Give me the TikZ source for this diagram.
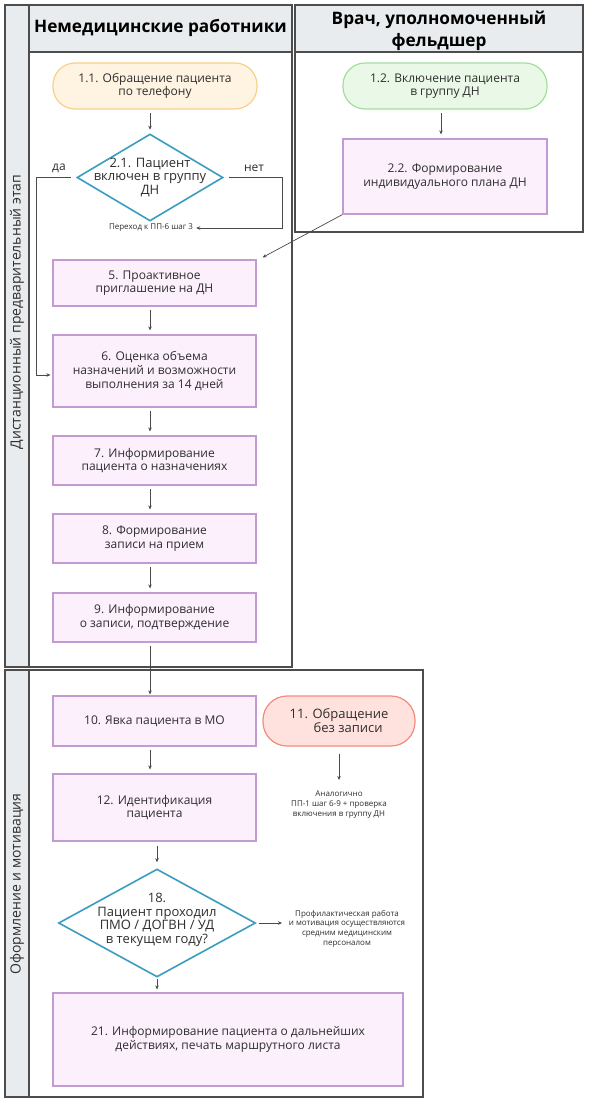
\documentclass[tikz,border=0pt]{standalone}
\usepackage{fontspec}
\setmainfont{Open Sans}
\usetikzlibrary{shapes.geometric,arrows.meta,calc}
\definecolor{frameC}{HTML}{4D4D4D}
\definecolor{headF}{HTML}{E8ECEF}
\definecolor{boxB}{HTML}{C39BD3}
\definecolor{boxF}{HTML}{FCF0FD}
\definecolor{orB}{HTML}{F7D08A}
\definecolor{orF}{HTML}{FFF4E2}
\definecolor{grB}{HTML}{A4DE9C}
\definecolor{grF}{HTML}{EAF9E7}
\definecolor{rdB}{HTML}{F28B7D}
\definecolor{rdF}{HTML}{FFE2DD}
\definecolor{diaB}{HTML}{3A9DBF}
\definecolor{txt}{HTML}{2E2E2E}
\definecolor{lineC}{HTML}{4A4A4A}
\newcommand{\boxfont}{\fontsize{12}{13.6}\selectfont}
\newcommand{\diafont}{\fontsize{13}{13.6}\selectfont}
\newcommand{\tinyfont}{\fontsize{8}{9.7}\selectfont}
\newcommand{\headfont}{\fontsize{17.2}{22}\selectfont\bfseries}
\newcommand{\lanefont}{\fontsize{14}{15}\selectfont}
\tikzset{
  x=1pt, y=-1pt,
  box/.style={draw=boxB, fill=boxF, line width=1.2pt, inner sep=0pt, align=center, font=\boxfont, text=txt},
  pill/.style={box, rounded corners=22pt},
  dia/.style={diamond, draw=diaB, fill=white, line width=1.6pt, inner sep=0pt},
  diatext/.style={align=center, font=\diafont, text=txt, inner sep=0pt},
  arr/.style={-{Stealth[length=4pt,width=3.5pt]}, draw=lineC, line width=0.7pt},
  small/.style={font=\tinyfont, text=txt, align=center, inner sep=1pt},
  lane/.style={draw=frameC, line width=1.1pt},
  head/.style={font=\headfont, text=black, align=center},
  lanetxt/.style={font=\lanefont, text=txt, rotate=90}
}
\begin{document}
\begin{tikzpicture}
\useasboundingbox (0,0) rectangle (589,1105);
\fill[white] (0,0) rectangle (589,1105);
% lanes top section
\filldraw[lane, fill=headF] (5,5) rectangle (29,667);
\filldraw[lane, fill=headF] (29,5) rectangle (292,52);
\draw[lane] (29,5) rectangle (292,667);
\filldraw[lane, fill=headF] (295,5) rectangle (583,52);
\draw[lane] (295,5) rectangle (583,232);
\node[head] (h1) at (160.5,28) {Немедицинские работники};
\node[head] (h2) at (439,31) {Врач, уполномоченный\\фельдшер};
\node[lanetxt] (l1) at (17,312) {Дистанционный предварительный этап};
% bottom section
\filldraw[lane, fill=headF] (5,670) rectangle (29,1097);
\draw[lane] (29,670) rectangle (423,1097);
\node[lanetxt] (l2) at (17,884) {Оформление и мотивация};

% nodes
\node[pill, draw=orB, fill=orF, minimum width=204pt, minimum height=46pt] (b11) at (155,86) {1.1. Обращение пациента\\по телефону};
\node[dia, minimum width=146pt, minimum height=87pt] (d21) at (150,177.5) {};
\node[diatext] at (d21) {2.1. Пациент\\включен в группу\\ДН};
\node[pill, draw=grB, fill=grF, minimum width=204pt, minimum height=46pt] (b12) at (445,86) {1.2. Включение пациента\\в группу ДН};
\node[box, minimum width=204pt, minimum height=75pt] (b22) at (445,176.5) {2.2. Формирование\\индивидуального плана ДН};
\node[box, minimum width=203pt, minimum height=46pt] (b5) at (154.5,283) {5. Проактивное\\приглашение на ДН};
\node[box, minimum width=203pt, minimum height=72pt] (b6) at (154.5,371) {6. Оценка объема\\назначений и возможности\\выполнения за 14 дней};
\node[box, minimum width=203pt, minimum height=49pt] (b7) at (154.5,460.5) {7. Информирование\\пациента о назначениях};
\node[box, minimum width=203pt, minimum height=49pt] (b8) at (154.5,538.5) {8. Формирование\\записи на прием};
\node[box, minimum width=203pt, minimum height=49pt] (b9) at (154.5,617.5) {9. Информирование\\о записи, подтверждение};
\node[box, minimum width=203pt, minimum height=50pt] (b10) at (154.5,721) {10. Явка пациента в МО};
\node[pill, draw=rdB, fill=rdF, minimum width=152pt, minimum height=50pt, font=\fontsize{13}{14}\selectfont, rounded corners=24pt] (p11) at (339,721) {11. Обращение\\\hspace*{1.4em}без записи};
\node[box, minimum width=203pt, minimum height=67pt] (b12b) at (154.5,807.5) {12. Идентификация\\пациента};
\node[dia, minimum width=197pt, minimum height=108pt] (d18) at (157,923) {};
\node[diatext, font=\fontsize{13}{13.6}\selectfont] at ([yshift=3pt]d18.center) {18.\\Пациент проходил\\ПМО / ДОГВН / УД\\в текущем году?};
\node[box, minimum width=350pt, minimum height=93pt] (b21) at (228,1039.5) {21. Информирование пациента о дальнейших\\действиях, печать маршрутного листа};

% small texts
\node[small, fill=white] (tnext) at (151,228) {Переход к ПП-6 шаг 3};
\node[small, anchor=north] (t11) at (339,790) {Аналогично\\ПП-1 шаг 6-9 + проверка\\включения в группу ДН};
\node[small] (t18) at (347,928.5) {Профилактическая работа\\и мотивация осуществляются\\средним медицинским\\персоналом};
\node[font=\boxfont, text=txt] (lda) at (59,168) {да};
\node[font=\boxfont, text=txt] (lnet) at (254,168) {нет};
\coordinate (nc) at (282,228);
\coordinate (a18) at (282,923);

% connectors
\draw[arr, shorten <=3.5pt, shorten >=3.5pt] (b11.south -| d21.north) -- (d21.north);
\draw[arr] ([xshift=-5pt]d21.west) -| ([xshift=-16pt,yshift=-4pt]b6.west) -- ([xshift=-2pt,yshift=-4pt]b6.west);
\draw[arr, shorten >=2pt] ([xshift=5pt]d21.east) -| (nc) -- (tnext.east);
\draw[arr, shorten <=3.5pt, shorten >=4pt] ([xshift=-4pt]b12.south) -- ([xshift=-4pt]b22.north);
\draw[arr] (b22.south west) -- ([xshift=6pt,yshift=2pt]b5.north east);
\draw[arr, shorten <=3.5pt, shorten >=4pt] (b5.south -| d21.north) -- (b6.north -| d21.north);
\draw[arr, shorten <=3.5pt, shorten >=4pt] (b6.south -| d21.north) -- (b7.north -| d21.north);
\draw[arr, shorten <=3.5pt, shorten >=4pt] (b7.south -| d21.north) -- (b8.north -| d21.north);
\draw[arr, shorten <=3.5pt, shorten >=4pt] (b8.south -| d21.north) -- (b9.north -| d21.north);
\draw[arr, shorten <=3.5pt, shorten >=1pt] (b9.south -| d21.north) -- (b10.north -| d21.north);
\draw[arr, shorten <=3.5pt, shorten >=4pt] (b10.south -| d21.north) -- (b12b.north -| d21.north);
\draw[arr, shorten <=7pt] (p11.south) -- ([yshift=10pt]t11.north);
\draw[arr, shorten <=4pt, shorten >=6pt] (b12b.south -| d18.north) -- (d18.north);
\draw[arr, shorten <=1pt, shorten >=3pt] (d18.south) -- (b21.north -| d18.south);
\draw[arr] ([xshift=3pt]d18.east) -- (a18);
\end{tikzpicture}
\end{document}
